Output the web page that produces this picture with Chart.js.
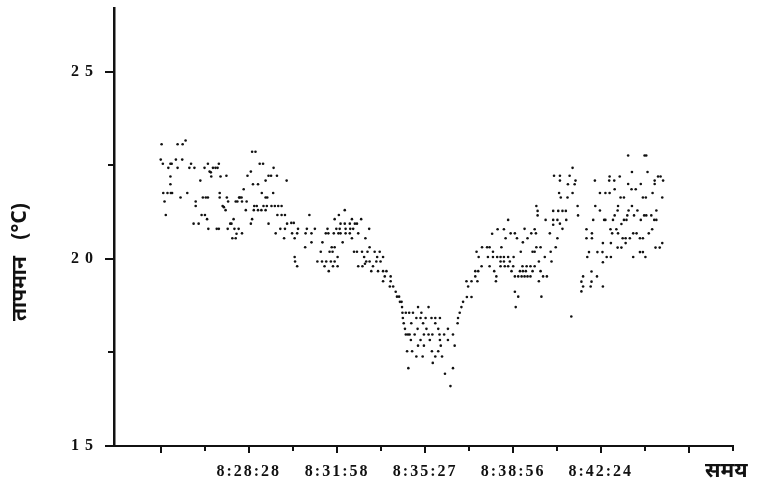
<!DOCTYPE html>
<html>
<head>
<meta charset="utf-8">
<script src="https://cdn.jsdelivr.net/npm/chart.js@4/dist/chart.umd.min.js"></script>
<style>
  html, body { margin: 0; padding: 0; background: #fff; }
  #wrap { width: 757px; height: 487px; }
</style>
</head>
<body>
<div id="wrap"><canvas id="c" width="757" height="487"></canvas></div>
<script>
// ---- data: [seconds after 8:00:00, temperature °C] ----
const earlyReadings = [
  [1501,23.06],[1539,23.06],[1551,23.06],[1558,23.16],
  [1499,22.65],[1504,22.54],[1522,22.54],[1525,22.54],[1535,22.65],[1550,22.65],
  [1517,22.43],[1539,22.43],[1571,22.54],[1567,22.43],[1579,22.43],[1603,22.43],[1611,22.54],
  [1615,22.33],[1618,22.31],[1623,22.43],[1629,22.43],[1634,22.43],[1637,22.54],
  [1619,22.20],[1641,22.20],[1655,22.22],
  [1522,22.20],[1522,21.99],[1593,22.09],
  [1505,21.76],[1515,21.76],[1523,21.76],[1526,21.76],[1562,21.76],
  [1546,21.64],[1508,21.53],
  [1599,21.64],[1606,21.64],[1611,21.64],
  [1639,21.76],[1639,21.64],[1656,21.64],
  [1582,21.53],[1582,21.41],
  [1646,21.41],[1649,21.38],
  [1659,21.53],[1677,21.53],[1681,21.53],[1685,21.64],
  [1653,21.30],[1511,21.17],
  [1596,21.17],[1604,21.17],[1609,21.06],
  [1577,20.94],[1589,20.94],
  [1612,20.80],[1632,20.80],[1637,20.80],[1658,20.80],
  [1664,20.94],[1667,20.94],[1672,21.06],
  [1674,20.80],[1684,20.80],[1679,20.67],
  [1669,20.55],[1677,20.55]
];
const plateauReadings = [
  [1716,22.86],[1724,22.86],[1734,22.54],[1742,22.54],[1767,22.43],[1713,22.33],[1705,22.22],
  [1755,22.22],[1761,22.22],[1775,22.22],[1798,22.09],[1748,22.09],[1718,21.99],[1730,21.99],
  [1696,21.86],[1739,21.76],[1766,21.76],[1748,21.64],[1752,21.64],[1687,21.64],[1691,21.64],
  [1692,21.53],[1703,21.53],[1721,21.41],[1727,21.41],
  [1743,21.41],[1751,21.41],[1762,21.41],[1770,21.41],[1778,21.41],[1786,21.41],
  [1701,21.30],[1720,21.30],[1730,21.30],[1738,21.30],[1748,21.30],
  [1776,21.17],[1786,21.17],[1794,21.17],[1852,21.17],[1716,21.06],
  [1713,20.94],[1755,20.94],[1799,20.94],[1809,20.96],[1815,20.96],
  [1783,20.80],[1794,20.80],[1825,20.80],[1846,20.80],[1865,20.80],
  [1692,20.68],[1772,20.68],[1811,20.68],[1823,20.68],[1843,20.68],[1857,20.68],
  [1792,20.55],[1817,20.55],[1857,20.44],[1842,20.31],
  [1817,20.05],[1818,19.93],[1871,19.93],[1823,19.80]
];
const coolingReadings = [
  [1936,21.30],[1922,21.17],[1912,21.06],[1953,21.06],[1975,21.06],
  [1926,20.94],[1936,20.94],[1948,20.94],[1960,20.94],[1965,20.94],
  [1895,20.80],[1916,20.80],[1924,20.80],[1938,20.80],[1949,20.80],[1956,20.80],[1994,20.80],
  [1891,20.68],[1897,20.68],[1910,20.68],[1921,20.68],[1926,20.68],[1938,20.68],[1948,20.68],[1968,20.68],
  [1953,20.55],[1985,20.55],[1883,20.44],[1931,20.44],
  [1905,20.31],[1912,20.31],[1995,20.31],
  [1879,20.19],[1900,20.19],[1907,20.19],[1958,20.19],[1965,20.19],[1977,20.19],[1990,20.19],[2007,20.19],[2019,20.19],
  [1919,20.05],[1982,20.05],[2013,20.05],[2027,20.05],
  [1882,19.93],[1892,19.93],[1903,19.93],[1912,19.93],[1987,19.93],[1995,19.93],[2011,19.93],[2021,19.93],
  [1984,19.87],
  [1888,19.80],[1908,19.80],[1919,19.80],[1968,19.80],[1978,19.80],[2003,19.80],
  [1898,19.67],[1999,19.67],[2015,19.67],[2027,19.67],[2035,19.67],
  [2031,19.53],[2045,19.53],[2027,19.40],[2045,19.40],
  [2043,19.26],[2051,19.26],[2057,19.12],[2060,18.99],[2065,18.99],
  [2067,18.85],[2071,18.85],[2072,18.71],
  [2073,18.56],[2081,18.56],[2089,18.56],
  [2074,18.42],[2076,18.28],[2079,18.13],[2081,17.98],[2086,17.98],
  [2084,17.53],[2087,17.08]
];
const minimumReadings = [
  [2110,18.71],[2135,18.71],
  [2098,18.56],[2118,18.56],
  [2106,18.42],[2116,18.42],[2128,18.42],[2142,18.42],[2151,18.42],[2162,18.42],
  [2094,18.28],[2122,18.28],[2151,18.28],
  [2109,18.13],[2130,18.13],[2158,18.13],[2181,18.13],
  [2090,17.98],[2102,17.98],[2124,17.98],[2135,17.98],[2144,17.98],[2161,17.98],[2172,17.98],[2193,17.98],
  [2093,17.83],[2116,17.83],[2138,17.83],[2162,17.83],[2181,17.83],
  [2110,17.68],[2124,17.68],[2164,17.68],[2197,17.68],
  [2096,17.53],[2143,17.53],[2158,17.53],
  [2106,17.39],[2121,17.39],[2151,17.39],[2167,17.39],
  [2145,17.22],[2193,17.08],[2174,16.93],[2187,16.60],
  [2204,18.28],[2205,18.42],[2209,18.56],[2213,18.71],[2217,18.85],
  [2226,18.98],[2237,18.98],[2229,19.26],
  [2225,19.40],[2237,19.40],[2251,19.40],
  [2246,19.53],[2246,19.67],[2253,19.67],
  [2261,19.80],[2280,19.80],[2291,19.67],
  [2254,20.05],[2276,20.05],[2288,20.05],
  [2249,20.19],[2262,20.31],[2274,20.31],[2280,20.31],[2286,20.67]
];
const warmingReadings = [
  [2477,22.43],
  [2433,22.22],[2447,22.22],[2470,22.22],[2447,22.09],
  [2466,21.99],[2482,21.99],[2484,22.09],
  [2445,21.76],[2477,21.76],[2449,21.64],[2465,21.64],
  [2391,21.41],[2394,21.28],
  [2431,21.28],[2443,21.28],[2453,21.28],[2461,21.28],
  [2489,21.41],[2490,21.16],[2394,21.16],[2413,21.04],
  [2431,21.04],[2441,21.04],[2462,21.04],[2324,21.04],
  [2431,20.91],[2447,20.94],[2453,20.80],
  [2299,20.79],[2314,20.79],[2363,20.80],[2387,20.79],
  [2330,20.68],[2340,20.68],[2379,20.68],[2390,20.68],[2423,20.68],
  [2318,20.55],[2345,20.55],[2370,20.55],[2441,20.55],[2359,20.44],
  [2308,20.31],[2391,20.31],[2401,20.31],[2437,20.31],
  [2288,20.19],[2354,20.19],[2382,20.19],[2387,20.19],[2425,20.19],
  [2298,20.05],[2306,20.05],[2314,20.05],[2324,20.05],[2337,20.05],[2411,20.05],
  [2306,19.93],[2314,19.93],[2328,19.93],[2397,19.93],[2427,19.93],
  [2306,19.80],[2316,19.80],[2324,19.80],[2336,19.80],
  [2358,19.80],[2368,19.80],[2377,19.80],[2387,19.80],
  [2332,19.67],[2352,19.67],[2359,19.67],[2366,19.67],[2382,19.67],[2401,19.67],
  [2296,19.53],[2340,19.53],[2348,19.53],[2356,19.53],[2363,19.53],[2370,19.53],[2377,19.53],
  [2407,19.53],[2416,19.53],
  [2295,19.40],[2397,19.40],[2340,19.12],[2348,18.99],[2403,18.99],[2342,18.71],[2474,18.46]
];
const lateReadings = [
  [2609,22.76],[2648,22.76],[2652,22.76],
  [2618,22.32],[2655,22.32],
  [2565,22.20],[2589,22.20],[2680,22.20],[2686,22.20],
  [2530,22.09],[2564,22.09],[2576,22.09],[2672,22.09],[2692,22.09],
  [2609,22.00],[2639,22.00],[2672,22.00],
  [2577,21.86],[2617,21.86],[2627,21.86],
  [2542,21.76],[2555,21.76],[2565,21.76],[2667,21.76],
  [2591,21.64],[2599,21.64],[2644,21.64],[2651,21.64],[2690,21.64],
  [2531,21.41],[2585,21.41],[2618,21.41],
  [2542,21.29],[2584,21.29],[2610,21.29],[2631,21.29],[2676,21.29],
  [2577,21.16],[2607,21.16],[2623,21.16],[2647,21.16],[2652,21.16],[2664,21.16],
  [2526,21.04],[2552,21.04],[2555,21.04],[2573,21.04],[2599,21.04],[2605,21.04],[2639,21.04],[2671,21.04],[2676,21.04],
  [2593,20.93],
  [2510,20.79],[2567,20.79],[2581,20.79],[2666,20.79],
  [2523,20.68],[2571,20.68],[2585,20.68],[2621,20.68],[2629,20.68],[2658,20.68],
  [2510,20.55],[2523,20.55],[2596,20.55],[2603,20.55],[2613,20.55],[2637,20.55],[2644,20.55],
  [2549,20.42],[2568,20.42],[2603,20.42],[2690,20.42],
  [2584,20.30],[2593,20.30],[2674,20.30],[2684,20.30],
  [2516,20.18],[2536,20.18],[2548,20.18],[2637,20.18],[2644,20.18],
  [2512,20.05],[2558,20.05],[2568,20.05],[2621,20.05],[2650,20.05],
  [2549,19.91],[2522,19.66],
  [2502,19.53],[2535,19.53],[2498,19.39],[2522,19.39],
  [2502,19.26],[2520,19.26],[2549,19.26],[2498,19.13]
];

// ---- axes ----
const xTickLabels = ['8:28:28', '8:31:58', '8:35:27', '8:38:56', '8:42:24'];
const yTickLabels = [15, 20, 25];
const yMinorTicks = [17.5, 22.5];
const xRange = [1388, 2858];
const yRange = [15, 26.7];
const xTitle = 'समय';
const yTitle = 'तापमान   (°C)';

const toSeconds = s => { const [h, m, sec] = s.split(':').map(Number); return (h - 8) * 3600 + m * 60 + sec; };
const labelSeconds = xTickLabels.map(toSeconds);
const majorStep = (labelSeconds[labelSeconds.length - 1] - labelSeconds[0]) / (labelSeconds.length - 1);
const xMajor = [labelSeconds[0] - majorStep, ...labelSeconds, labelSeconds[labelSeconds.length - 1] + majorStep];
const xMinor = [];
for (let i = 0; i < xMajor.length - 1; i++) xMinor.push((xMajor[i] + xMajor[i + 1]) / 2);
xMinor.push(xMajor[xMajor.length - 1] + majorStep / 2);

const toPoints = arr => arr.map(([x, y]) => ({ x, y }));
const allReadings = [earlyReadings, plateauReadings, coolingReadings, minimumReadings, warmingReadings, lateReadings];

function spacedLabels(scale, spacing) {
  if (scale._spacedPatch) return;
  const orig = scale.drawLabels.bind(scale);
  scale.drawLabels = (area) => {
    scale.ctx.save();
    scale.ctx.letterSpacing = spacing;
    orig(area);
    scale.ctx.restore();
  };
  scale._spacedPatch = true;
}

const tickMarks = {
  id: 'tickMarks',
  afterDraw(chart) {
    const { ctx, scales: { x, y }, chartArea } = chart;
    ctx.save();
    ctx.strokeStyle = '#111';
    ctx.lineWidth = 2;
    ctx.beginPath();
    [...yTickLabels.map(v => [v, 9]), ...yMinorTicks.map(v => [v, 6])].forEach(([v, len]) => {
      const py = Math.round(y.getPixelForValue(v));
      ctx.moveTo(chartArea.left - len, py);
      ctx.lineTo(chartArea.left, py);
    });
    [...xMajor.map(v => [v, 7]), ...xMinor.map(v => [v, 5])].forEach(([v, len]) => {
      const px = Math.round(x.getPixelForValue(v));
      ctx.moveTo(px, chartArea.bottom);
      ctx.lineTo(px, chartArea.bottom + len);
    });
    ctx.stroke();
    ctx.fillStyle = '#111';
    ctx.font = 'bold 21px "Noto Sans", "DejaVu Sans", sans-serif';
    ctx.textAlign = 'left';
    ctx.textBaseline = 'middle';
    ctx.fillText(xTitle, chartArea.right - 28, chartArea.bottom + 25);
    ctx.translate(20, 262);
    ctx.rotate(-Math.PI / 2);
    ctx.textAlign = 'center';
    ctx.fillText(yTitle, 0, 0);
    ctx.restore();
  }
};

Chart.defaults.font.family = '"Liberation Serif", serif';
Chart.defaults.font.weight = 'bold';
Chart.defaults.color = '#111';

new Chart(document.getElementById('c'), {
  type: 'scatter',
  data: {
    datasets: allReadings.map(r => ({
      data: toPoints(r),
      backgroundColor: '#111',
      borderWidth: 0,
      pointRadius: 1.3,
      pointHoverRadius: 1.3
    }))
  },
  options: {
    responsive: false,
    animation: false,
    events: [],
    layout: { padding: { top: 8, right: 24, left: 0, bottom: 0 } },
    plugins: { legend: { display: false }, tooltip: { enabled: false } },
    scales: {
      x: {
        type: 'linear',
        min: xRange[0],
        max: xRange[1],
        afterBuildTicks: s => { s.ticks = labelSeconds.map(v => ({ value: v })); },
        afterFit: s => { s.height = 41; s.paddingLeft = 0; s.paddingRight = 0; spacedLabels(s, '2px'); },
        ticks: {
          callback: v => { const i = labelSeconds.indexOf(v); return i >= 0 ? xTickLabels[i] : ''; },
          font: { size: 16, weight: 'bold' },
          padding: 16,
          maxRotation: 0,
          autoSkip: false
        },
        grid: { display: false, drawTicks: false },
        border: { display: true, color: '#111', width: 2 }
      },
      y: {
        min: yRange[0],
        max: yRange[1],
        afterBuildTicks: s => { s.ticks = yTickLabels.map(v => ({ value: v })); },
        afterFit: s => { s.width = 114; s.paddingTop = 0; s.paddingBottom = 0; spacedLabels(s, '6px'); },
        ticks: {
          callback: v => String(v),
          font: { size: 16, weight: 'bold' },
          padding: 15
        },
        grid: { display: false, drawTicks: false },
        border: { display: true, color: '#111', width: 2.5 }
      }
    }
  },
  plugins: [tickMarks]
});
</script>
</body>
</html>
